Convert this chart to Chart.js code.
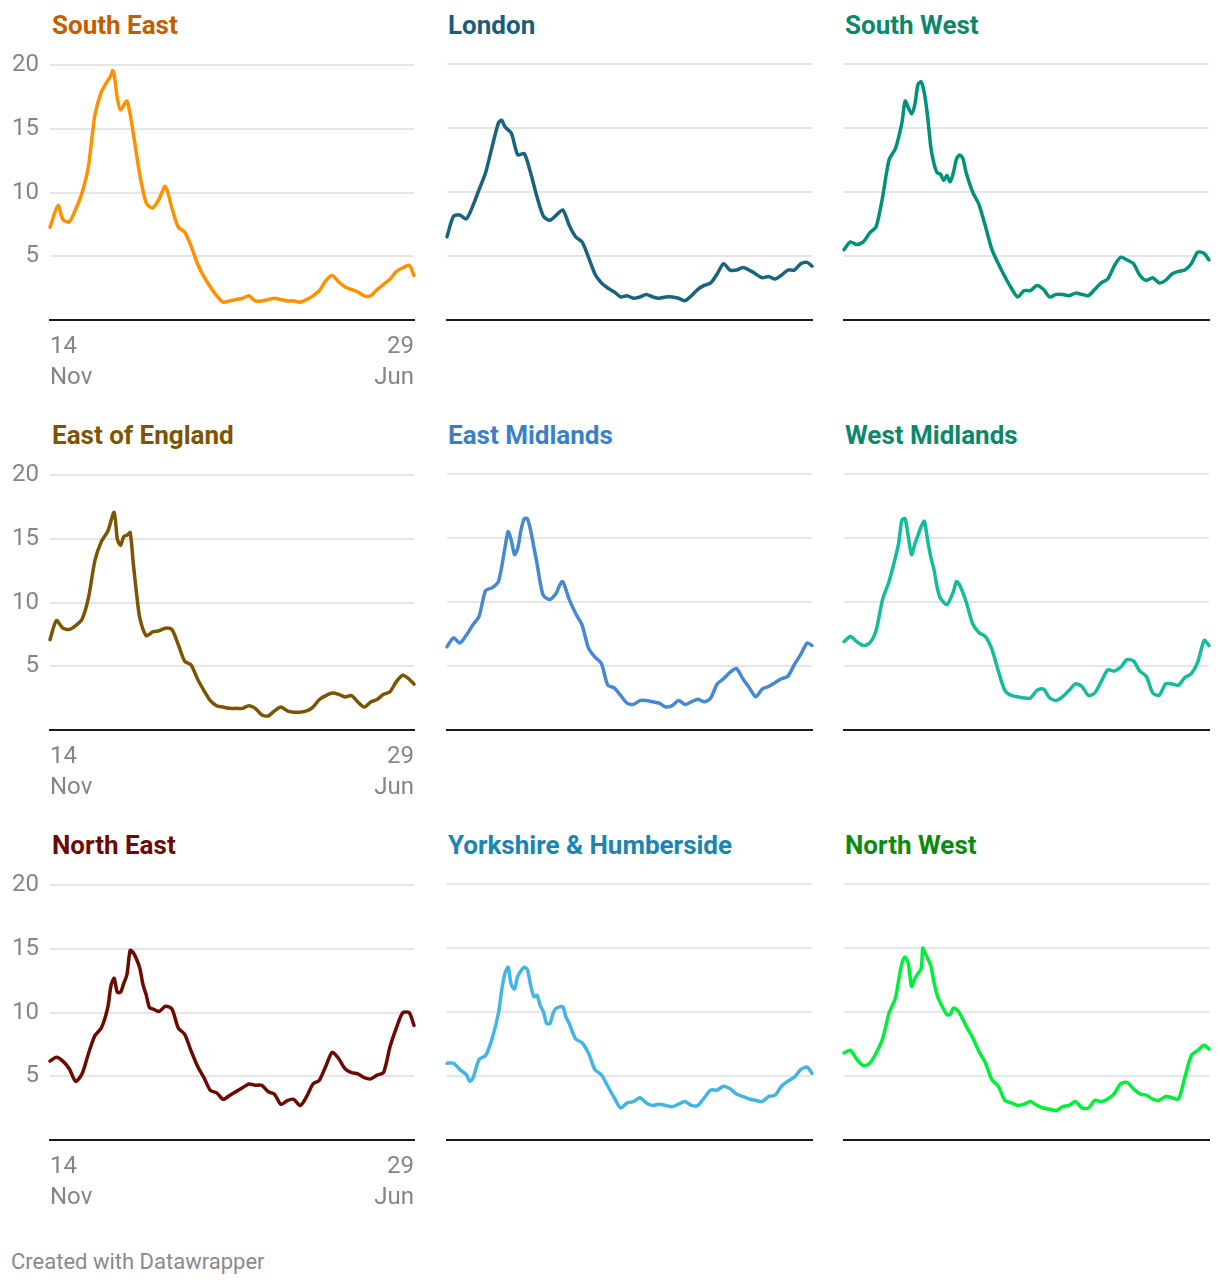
<!DOCTYPE html>
<html>
<head>
<meta charset="utf-8">
<script src="https://cdn.jsdelivr.net/npm/chart.js@4.4.1/dist/chart.umd.min.js"></script>
<style>
  html, body { margin: 0; padding: 0; background: #ffffff; }
  body { width: 1220px; height: 1286px; position: relative; overflow: hidden; font-family: Roboto, "Noto Sans", sans-serif; }
  .ttl { position: absolute; font-family: Roboto, sans-serif; font-weight: 700; font-size: 26px; line-height: 26px; white-space: nowrap; }
  .wrap { position: absolute; }
  .foot { position: absolute; left: 11px; top: 1251px; font-family: Roboto, sans-serif; font-size: 22px; line-height: 22px; color: #8a8a8a; }
</style>
</head>
<body>
<script>
// ---------------- DATA (day offset from 14 Nov, value) ----------------
const regionNames = ["South East", "London", "South West", "East of England", "East Midlands", "West Midlands", "North East", "Yorkshire & Humberside", "North West"];
const xTickFirst = ["14", "Nov"];
const xTickLast = ["29", "Jun"];
const yTickValues = [5, 10, 15, 20];

const seDays = [0,5,8,12,16,20,24,28,32,36,38,39,40,42,44,48,52,56,60,64,68,72,76,80,84,88,92,96,100,104,108,112,116,120,124,128,132,136,140,144,148,152,156,160,164,168,172,176,180,184,188,192,196,200,204,208,212,216,220,224,227];
const seVals = [7.3,9.0,7.9,7.7,8.7,10.0,12.1,16.1,17.9,18.8,19.2,19.6,19.3,17.4,16.5,17.2,14.6,11.4,9.2,8.8,9.5,10.5,8.8,7.3,6.9,5.8,4.4,3.4,2.6,1.9,1.4,1.5,1.6,1.7,1.9,1.5,1.5,1.6,1.7,1.6,1.5,1.5,1.4,1.6,1.9,2.3,3.1,3.5,3.0,2.6,2.4,2.2,1.9,1.9,2.4,2.8,3.2,3.8,4.1,4.3,3.5];

const ldDays = [0,4,8,12,16,20,24,28,32,34,36,40,44,48,52,56,60,64,68,72,76,80,84,88,92,96,100,104,108,112,116,120,124,128,132,136,140,144,148,152,156,160,164,168,172,176,180,184,188,192,196,200,204,208,212,216,220,224,227];
const ldVals = [6.5,8.1,8.2,7.9,8.9,10.2,11.5,13.5,15.4,15.6,15.1,14.6,12.9,13.0,11.5,9.6,8.1,7.8,8.2,8.6,7.4,6.5,6.1,4.9,3.6,2.9,2.5,2.2,1.8,1.9,1.7,1.8,2.0,1.8,1.7,1.8,1.8,1.7,1.5,1.9,2.4,2.7,2.9,3.6,4.4,3.9,3.9,4.1,3.9,3.6,3.3,3.4,3.2,3.5,3.9,3.9,4.4,4.5,4.2];

const swDays = [0,4,8,12,16,20,24,28,32,36,38,40,42,44,46,48,50,52,54,56,58,60,62,64,66,68,70,72,74,76,80,84,88,92,96,100,104,108,112,116,120,124,128,132,136,140,144,148,152,156,160,164,168,172,176,180,184,188,192,196,200,204,208,212,216,220,224,227];
const swVals = [5.5,6.1,5.9,6.1,6.8,7.3,9.6,12.5,13.4,15.4,17.1,16.6,16.1,16.8,18.4,18.6,17.7,15.9,13.5,12.2,11.5,11.4,10.9,11.3,10.8,11.5,12.6,12.9,12.6,11.5,10.0,9.0,7.3,5.5,4.4,3.4,2.5,1.8,2.3,2.3,2.7,2.4,1.8,2.0,2.0,1.9,2.1,2.0,1.9,2.4,2.9,3.2,4.2,4.9,4.7,4.4,3.5,3.1,3.3,2.9,3.1,3.6,3.8,3.9,4.4,5.3,5.2,4.7];

const eeDays = [0,4,8,12,16,20,24,28,32,36,40,42,44,46,48,50,52,54,56,60,64,68,72,76,80,84,88,92,96,100,104,108,112,116,120,124,128,132,136,140,144,148,152,156,160,164,168,172,176,180,184,188,192,196,200,204,208,212,216,220,224,227];
const eeVals = [7.1,8.6,8.0,7.9,8.2,8.7,10.4,13.3,14.8,15.6,17.1,15.0,14.5,15.2,15.3,15.5,13.0,10.7,8.8,7.4,7.7,7.8,8.0,7.9,6.7,5.4,5.1,4.0,3.1,2.3,1.9,1.8,1.7,1.7,1.7,1.9,1.7,1.2,1.1,1.5,1.8,1.5,1.4,1.4,1.5,1.8,2.4,2.7,2.9,2.8,2.6,2.7,2.2,1.8,2.2,2.4,2.8,3.0,3.8,4.3,4.0,3.6];

const emDays = [0,4,8,12,16,20,24,28,32,36,38,40,42,44,46,48,50,52,54,56,58,60,64,68,70,72,76,80,84,88,92,96,100,104,108,112,116,120,124,128,132,136,140,144,148,152,156,160,164,168,172,176,180,184,188,192,196,200,204,208,212,216,220,224,227];
const emVals = [6.5,7.2,6.8,7.4,8.2,8.9,10.9,11.1,11.6,14.2,15.5,14.8,13.7,14.2,15.6,16.5,16.5,15.6,14.3,13.0,11.5,10.5,10.2,10.7,11.3,11.6,10.2,9.1,8.2,6.4,5.7,5.2,3.5,3.3,2.7,2.1,2.0,2.3,2.3,2.2,2.1,1.8,1.9,2.3,2.0,2.2,2.4,2.2,2.5,3.6,4.0,4.5,4.8,4.0,3.3,2.6,3.2,3.4,3.7,4.0,4.2,5.1,5.9,6.8,6.6];

const wmDays = [0,4,8,12,16,20,24,28,32,34,36,38,40,42,44,46,48,50,52,54,56,58,60,64,68,70,72,76,80,84,88,92,96,100,104,108,112,116,120,124,128,132,136,140,144,148,152,156,160,164,168,172,176,180,184,188,192,196,200,204,208,212,216,220,224,227];
const wmVals = [6.9,7.3,6.9,6.6,6.8,7.8,10.2,11.6,13.5,14.6,16.4,16.5,15.1,13.7,14.5,15.2,15.9,16.3,14.8,13.5,12.5,11.1,10.3,9.8,10.8,11.6,11.3,10.0,8.3,7.6,7.3,6.3,4.6,3.1,2.7,2.6,2.5,2.5,3.1,3.2,2.5,2.3,2.6,3.1,3.6,3.4,2.7,2.9,3.8,4.7,4.6,4.9,5.5,5.4,4.6,4.2,2.9,2.7,3.6,3.6,3.5,4.1,4.4,5.3,7.0,6.6];

const neDays = [0,4,8,12,16,20,24,28,32,36,38,40,42,44,46,48,50,52,54,56,58,60,62,64,68,72,76,80,84,88,92,96,100,104,108,112,116,120,124,128,132,136,140,144,148,152,156,160,164,168,172,176,180,184,188,192,196,200,204,208,212,216,220,224,227];
const neVals = [6.2,6.5,6.2,5.6,4.6,5.2,6.8,8.2,8.8,10.4,12.1,12.7,11.6,11.6,12.3,13.0,14.9,14.7,14.2,13.5,12.2,11.4,10.4,10.3,10.1,10.5,10.3,8.8,8.3,7.0,5.8,4.9,3.9,3.7,3.2,3.5,3.8,4.1,4.4,4.3,4.3,3.8,3.6,2.8,3.1,3.2,2.7,3.4,4.4,4.7,5.8,6.9,6.4,5.6,5.3,5.2,4.9,4.8,5.1,5.3,7.3,8.8,10.0,10.0,9.0];

const yhDays = [0,4,8,12,14,16,20,24,28,32,34,36,38,40,42,44,46,48,50,52,54,56,58,60,62,64,66,68,72,74,76,80,84,88,92,96,100,104,108,112,116,120,124,128,132,136,140,144,148,152,156,160,164,168,172,176,180,184,188,192,196,200,204,208,212,216,220,224,227];
const yhVals = [6.0,6.0,5.5,5.1,4.6,4.8,6.3,6.6,7.9,9.9,11.7,13.0,13.5,12.1,11.8,12.8,13.2,13.5,13.3,12.1,11.2,11.3,10.5,10.0,9.1,9.1,9.9,10.3,10.4,9.6,9.1,7.9,7.6,6.8,5.5,5.1,4.2,3.3,2.5,2.9,3.0,3.3,2.9,2.7,2.8,2.7,2.6,2.8,3.0,2.7,2.7,3.3,3.9,3.9,4.2,4.0,3.6,3.4,3.2,3.1,3.0,3.4,3.5,4.2,4.6,4.9,5.5,5.7,5.2];

const nwDays = [0,4,8,12,16,20,24,28,32,34,36,38,40,42,44,46,48,49,50,52,54,56,58,60,64,66,68,70,72,76,80,84,88,92,96,100,104,108,112,116,120,124,128,132,136,140,144,148,152,156,160,164,168,172,176,180,184,188,192,196,200,204,208,212,216,220,224,227];
const nwVals = [6.8,7.0,6.3,5.8,6.0,6.8,7.9,9.9,11.1,12.5,13.8,14.3,13.8,12.0,12.6,13.0,13.4,15.0,14.7,14.2,13.6,12.3,11.3,10.7,9.8,9.8,10.3,10.2,9.9,8.9,8.0,6.9,6.0,4.7,4.2,3.1,2.9,2.7,2.8,3.0,2.7,2.5,2.4,2.3,2.6,2.7,3.0,2.5,2.5,3.1,3.0,3.2,3.6,4.4,4.5,4.0,3.6,3.5,3.2,3.1,3.4,3.3,3.2,4.9,6.6,7.0,7.4,7.1];

const allDays = [seDays, ldDays, swDays, eeDays, emDays, wmDays, neDays, yhDays, nwDays];
const allVals = [seVals, ldVals, swVals, eeVals, emVals, wmVals, neVals, yhVals, nwVals];

// ---------------- STYLE ----------------
const lineColors  = ["#ff9100", "#18637e", "#00917a", "#7d5400", "#4689d3", "#14bc9c", "#6b0a00", "#43b5e5", "#00f03a"];
const titleColors = ["#c25e00", "#1a5d78", "#0b876c", "#7d5400", "#3a80c8", "#0b876c", "#6b0a00", "#1a85b4", "#0a8a0e"];

const FONT = "Roboto, 'Noto Sans', sans-serif";
const GRAY = "#858585";

for (let i = 0; i < 9; i++) {
  const col = i % 3, row = Math.floor(i / 3);
  const ttl = document.createElement('div');
  ttl.className = 'ttl';
  ttl.style.left = (52 + 397 * col - (col ? 1 : 0)) + 'px';
  ttl.style.top = (12 + 410 * row) + 'px';
  ttl.style.color = titleColors[i];
  ttl.textContent = regionNames[i];
  document.body.appendChild(ttl);

  const showLabels = col === 0;
  const cw = showLabels ? 426 : 421;
  const wrap = document.createElement('div');
  wrap.className = 'wrap';
  wrap.style.left = (397 * col) + 'px';
  wrap.style.top = (40 + 410 * row) + 'px';
  const cv = document.createElement('canvas');
  cv.width = cw; cv.height = 360;
  cv.style.width = cw + 'px'; cv.style.height = '360px';
  wrap.appendChild(cv);
  document.body.appendChild(wrap);

  const days = allDays[i], vals = allVals[i];
  new Chart(cv.getContext('2d'), {
    type: 'line',
    data: {
      datasets: [{
        data: days.map((d, j) => ({ x: d, y: vals[j] })),
        borderColor: lineColors[i],
        borderWidth: 3.5,
        pointRadius: 0,
        pointHoverRadius: 0,
        tension: 0.25,
        clip: false,
        borderJoinStyle: 'round',
        borderCapStyle: 'round',
        fill: false
      }]
    },
    options: {
      responsive: false,
      animation: false,
      devicePixelRatio: 1,
      layout: { padding: { top: 24, right: 6, left: 0, bottom: 0 } },
      plugins: { legend: { display: false }, tooltip: { enabled: false } },
      scales: {
        x: {
          type: 'linear', min: 0, max: 227,
          grid: { display: false, drawTicks: false },
          border: { display: true, color: '#1c1c1c', width: 2 },
          afterBuildTicks: s => { s.ticks = [{ value: 0 }, { value: 227 }]; },
          afterFit: s => { s.height = 80; },
          ticks: {
            display: showLabels, align: 'inner', maxRotation: 0, autoSkip: false, padding: 12,
            color: GRAY, font: { family: FONT, size: 24, lineHeight: 1.27 },
            callback: v => v === 0 ? xTickFirst : (v === 227 ? xTickLast : '')
          }
        },
        y: {
          min: 0, max: 20,
          afterBuildTicks: s => { s.ticks = [{ value: 0 }].concat(yTickValues.map(v => ({ value: v }))); },
          afterFit: s => { s.width = 50; },
          border: { display: false },
          grid: {
            drawTicks: false, lineWidth: 2,
            color: c => (c.tick && c.tick.value === 0) ? 'rgba(0,0,0,0)' : '#e6e6e6'
          },
          ticks: {
            display: showLabels, padding: 11, color: GRAY,
            font: { family: FONT, size: 24 },
            callback: v => v === 0 ? '' : String(v)
          }
        }
      }
    }
  });
}

const foot = document.createElement('div');
foot.className = 'foot';
foot.textContent = 'Created with Datawrapper';
document.body.appendChild(foot);
</script>
</body>
</html>
